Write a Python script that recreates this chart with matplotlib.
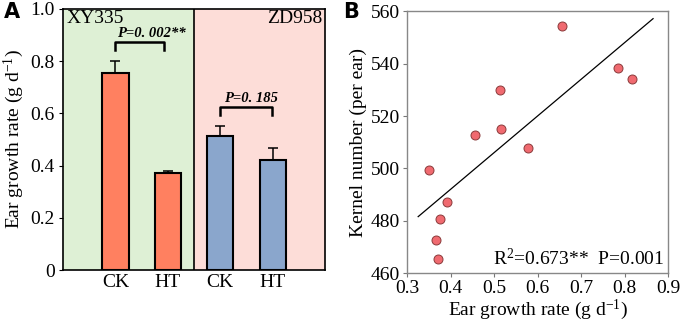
import numpy as np
import matplotlib
matplotlib.use('Agg')
import matplotlib.pyplot as plt

plt.rcParams['font.family'] = ['Liberation Serif', 'DejaVu Serif']
plt.rcParams['mathtext.fontset'] = 'custom'
plt.rcParams['mathtext.rm'] = 'Liberation Serif'

# Panel A data
groups = ['CK', 'HT', 'CK', 'HT']
rate = [0.755, 0.370, 0.515, 0.420]
rate_err = [0.045, 0.010, 0.035, 0.048]
hybrids = ['XY335', 'ZD958']
p_labels = ['P=0. 002**', 'P=0. 185']

# Panel B data
egr = [0.351, 0.391, 0.376, 0.367, 0.371, 0.456, 0.513, 0.516, 0.578, 0.656, 0.785, 0.817]
kernels = [499.5, 487.1, 480.9, 472.6, 465.6, 512.9, 529.8, 514.9, 507.8, 554.4, 538.4, 534.0]

FS = 14
fig = plt.figure(figsize=(6.85, 3.2), dpi=100)

# ---- A ----
ax = fig.add_axes([0.092, 0.156, 0.3825, 0.8166])
ax.axvspan(0, 2.5, color='#DEF0D5', zorder=0)
ax.axvspan(2.5, 5, color='#FDDDD8', zorder=0)
ax.axvline(2.5, color='black', lw=1.2, zorder=1)
x = np.arange(1, 5)
colors = ['#FF8060', '#FF8060', '#8AA6CC', '#8AA6CC']
ax.bar(x, rate, width=0.5, color=colors, edgecolor='black', linewidth=1.5, zorder=2)
ax.errorbar(x, rate, yerr=[np.zeros(4), rate_err], fmt='none', ecolor='black',
            elinewidth=1.1, capsize=3.5, capthick=1.1, zorder=1.5)
ax.set_xlim(0, 5)
ax.set_ylim(0, 1.0)
ax.set_xticks(x)
ax.set_xticklabels(groups, fontsize=FS)
ax.tick_params(axis='x', length=0, pad=3)
ax.set_yticks([0, 0.2, 0.4, 0.6, 0.8, 1.0])
ax.set_yticklabels(['0', '0.2', '0.4', '0.6', '0.8', '1.0'], fontsize=FS)
ax.tick_params(axis='y', direction='out', length=3, width=0.8, pad=3)
ax.set_ylabel('Ear growth rate (g d$\\mathregular{^{-1}}$)', fontsize=FS, labelpad=3)
for s in ax.spines.values():
    s.set_linewidth(1.2)
ax.text(0.06, 0.945, hybrids[0], fontsize=FS, ha='left', va='baseline')
ax.text(4.95, 0.945, hybrids[1], fontsize=FS, ha='right', va='baseline')

# significance brackets
for x0, x1, yb, xt, p in [(1, 1.92, 0.871, 1.68, p_labels[0]), (3, 3.98, 0.623, 3.58, p_labels[1])]:
    ax.plot([x0, x0, x1, x1], [yb - 0.03, yb, yb, yb - 0.03], color='black', lw=1.8, zorder=3)
    ax.text(xt, yb + 0.02, p, fontsize=10.5, fontweight='bold',
            fontstyle='italic', ha='center', va='baseline')

fig.text(0.006, 0.962, 'A', fontsize=15, fontweight='bold', family='DejaVu Sans', va='center')

# ---- B ----
bx = fig.add_axes([0.5946, 0.146, 0.381, 0.819])
bx.scatter(egr, kernels, s=42, color='#F06A70', edgecolor='#8A3A3A', linewidth=0.7, zorder=3)
k, b0 = np.polyfit(egr, kernels, 1)
xl = np.array([0.325, 0.865])
bx.plot(xl, k * xl + b0, color='black', lw=0.9, zorder=2)
bx.set_xlim(0.3, 0.9)
bx.set_ylim(460, 560)
bx.set_xticks(np.arange(0.3, 0.91, 0.1))
bx.set_xticklabels(['0.3', '0.4', '0.5', '0.6', '0.7', '0.8', '0.9'], fontsize=FS)
bx.set_yticks(np.arange(460, 561, 20))
bx.tick_params(axis='both', direction='out', length=3, width=0.8, color='#777777',
               labelsize=FS, pad=2)
for s in bx.spines.values():
    s.set_color('#888888')
    s.set_linewidth(1.0)
bx.set_xlabel('Ear growth rate (g d$\\mathregular{^{-1}}$)', fontsize=FS, labelpad=0)
bx.set_ylabel('Kernel number (per ear)', fontsize=FS, labelpad=3)
bx.text(0.985, 0.015, 'R$\\mathregular{^{2}}$=0.673**  P=0.001', transform=bx.transAxes,
        fontsize=FS, ha='right', va='bottom')

fig.text(0.501, 0.962, 'B', fontsize=15, fontweight='bold', family='DejaVu Sans', va='center')

fig.savefig('out.png', dpi=100)
